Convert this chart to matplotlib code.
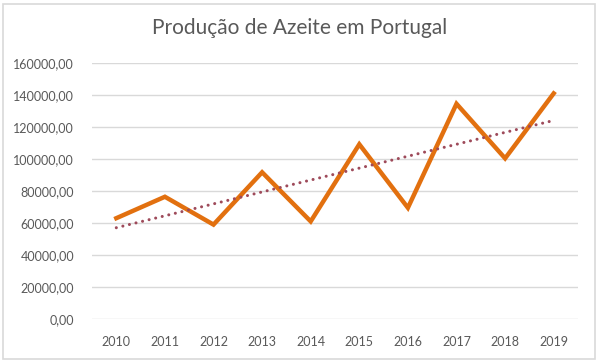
import matplotlib.pyplot as plt
from matplotlib.patches import Rectangle
import numpy as np

anos = ["2010", "2011", "2012", "2013", "2014", "2015", "2016", "2017", "2018", "2019"]
producao = [63000, 76400, 59000, 91700, 61000, 109200, 69500, 134500, 100400, 141000]
y_ticks = [0, 20000, 40000, 60000, 80000, 100000, 120000, 140000, 160000]

plt.rcParams['font.family'] = ['Lato', 'DejaVu Sans']
cinza = "#595959"

fig = plt.figure(figsize=(6, 3.62), dpi=100)
# moldura do grafico (estilo excel)
fig.patches.append(Rectangle((3/600, 3/362), 592/600, 355/362, transform=fig.transFigure,
                             fill=False, edgecolor="#D9D9D9", linewidth=1.2))
ax = fig.add_axes([92/600, 43/362, 486/600, 256/362])

x = np.arange(len(anos))
ax.plot(x, producao, color="#E2700F", linewidth=3.2, solid_joinstyle="miter", zorder=3)

# linha de tendencia linear
coef = np.polyfit(x, producao, 1)
ax.plot(x, np.polyval(coef, x), color="#9E4A5A", linewidth=2.2, linestyle=(0, (0.01, 2.2)),
        dash_capstyle="round", zorder=4)

ax.set_xlim(-0.5, len(anos) - 0.5)
ax.set_ylim(0, 160000)
ax.set_yticks(y_ticks)
ax.set_yticklabels(["%d,00" % v for v in y_ticks])
ax.set_xticks(x)
ax.set_xticklabels(anos)
ax.yaxis.grid(True, color="#D9D9D9", linewidth=1)
ax.set_axisbelow(True)
for s in ax.spines.values():
    s.set_visible(False)
ax.tick_params(axis="both", length=0, labelsize=9, labelcolor=cinza)
ax.tick_params(axis="y", pad=13)
ax.tick_params(axis="x", pad=12)

fig.text(0.5, 1 - 28/362, "Produção de Azeite em Portugal", ha="center", va="center",
         fontsize=15, color=cinza)

fig.savefig("out.png", dpi=100)
